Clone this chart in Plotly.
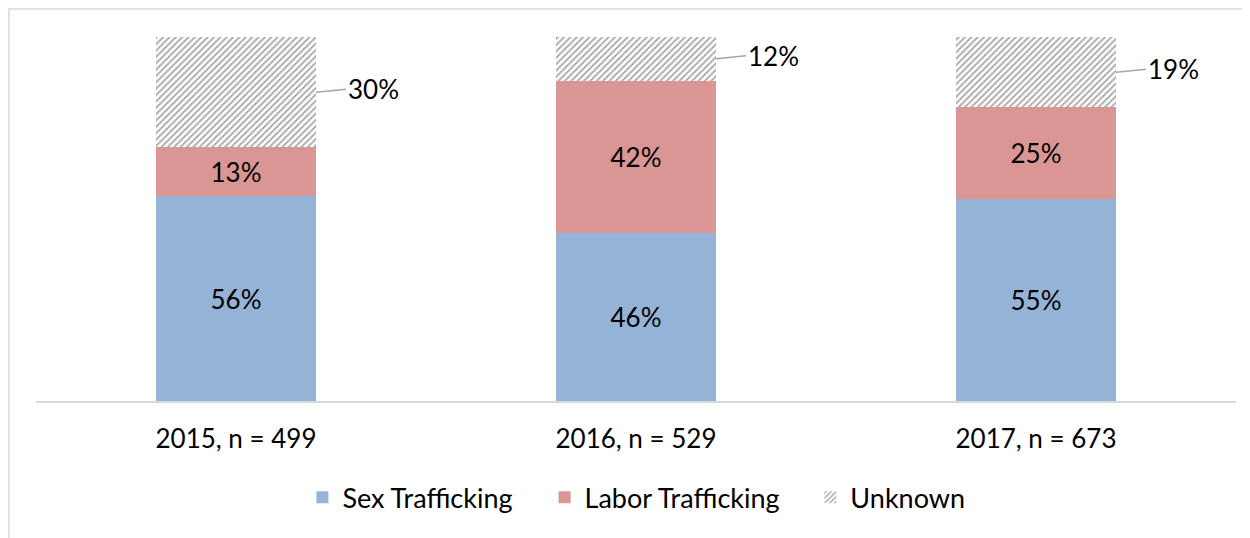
import plotly.graph_objects as go

years = ["2015, n = 499", "2016, n = 529", "2017, n = 673"]
sex = [56.3, 46.2, 55.4]
labor = [13.4, 41.8, 25.3]
unknown = [30.3, 12.0, 19.3]

font = "Lato, 'Open Sans', sans-serif"

fig = go.Figure()
fig.add_trace(go.Bar(
    x=years, y=sex, name="Sex Trafficking", legend="legend",
    marker=dict(color="#95b3d7", line=dict(width=0)),
    texttemplate="%{y:.0f}%", textposition="inside", insidetextanchor="middle",
    textfont=dict(color="black", size=26, family=font),
))
fig.add_trace(go.Bar(
    x=years, y=labor, name="Labor Trafficking", legend="legend2",
    marker=dict(color="#da9694", line=dict(width=0)),
    texttemplate="%{y:.0f}%", textposition="inside", insidetextanchor="middle",
    textfont=dict(color="black", size=26, family=font),
))
fig.add_trace(go.Bar(
    x=years, y=unknown, name="Unknown", legend="legend3",
    marker=dict(color="white", line=dict(width=0),
                pattern=dict(shape="/", fgcolor="#555555", bgcolor="white", size=4.5, solidity=0.4)),
))

# callouts for the unknown share
for i, yr in enumerate(years):
    mid = sex[i] + labor[i] + unknown[i] / 2
    fig.add_annotation(
        x=yr, y=mid, xshift=80, text=f"{unknown[i]:.0f}%",
        showarrow=True, arrowhead=0, arrowwidth=1.5, arrowcolor="#a6a6a6",
        ax=30, ay=-3, xanchor="left",
        font=dict(size=26, color="black", family=font),
    )

# light frame around the chart
fig.add_shape(type="rect", xref="paper", yref="paper",
              x0=-0.0225, x1=1.02, y0=-0.45, y1=1.0769,
              line=dict(color="#d9d9d9", width=1.5), layer="below")

leg = dict(orientation="h", xanchor="left", y=-0.266, yanchor="middle",
           font=dict(size=27), itemwidth=30)

fig.update_layout(
    barmode="stack",
    bargap=0.6,
    width=1242, height=530,
    margin=dict(l=28, r=14, t=29, b=137),
    plot_bgcolor="white", paper_bgcolor="white",
    font=dict(family=font, size=26, color="black"),
    showlegend=True,
    legend=dict(leg, x=0.222),
    legend2=dict(leg, x=0.4238),
    legend3=dict(leg, x=0.6453),
    xaxis=dict(showline=True, linecolor="#d9d9d9", linewidth=1.5, ticks="",
               ticklabelstandoff=14, tickfont=dict(size=26)),
    yaxis=dict(range=[0, 100], visible=False),
)

fig.write_html("out.html")
